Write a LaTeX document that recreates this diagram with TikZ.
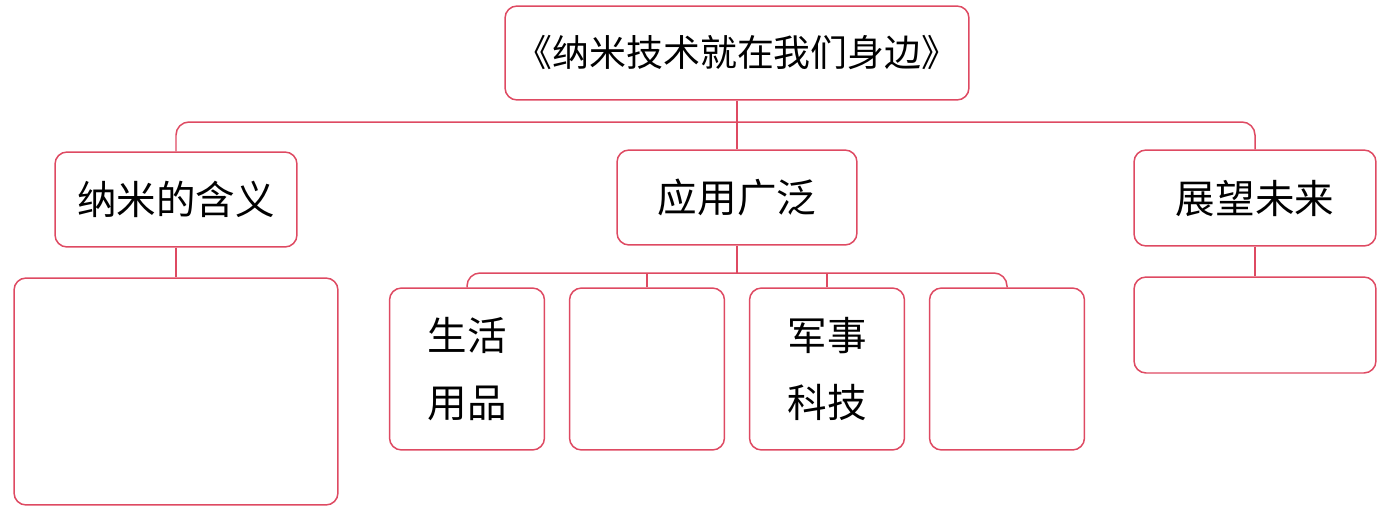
\documentclass[tikz,border=0pt]{standalone}
\usepackage{fontspec}
\newfontfamily\cjk{Noto Sans CJK SC}
\usetikzlibrary{positioning}

\definecolor{linkred}{RGB}{222,74,98}

\begin{document}
\begin{tikzpicture}[x=0.02cm, y=-0.02cm]

\tikzset{
  box/.style={
    rectangle, rounded corners=2.4mm,
    draw=linkred, line width=0.85pt, align=center,
    inner sep=2pt, font=\cjk\fontsize{22.5}{38}\selectfont
  },
  leaf/.style={box, minimum width=3.1cm, minimum height=3.24cm},
  link/.style={draw=linkred, line width=0.85pt, rounded corners=2.6mm}
}

\useasboundingbox (0,0) rectangle (1387,511);

% ==========================
% Title and the three topics
% ==========================
\node[box, minimum width=9.28cm, minimum height=1.88cm,
      font=\cjk\fontsize{21}{26}\selectfont] (title) at (737,53)
{《纳米技术就在我们身边》};

\node[box, minimum width=4.84cm, minimum height=1.9cm] (mean) at (176,199.5) {纳米的含义};
\node[box, minimum width=4.8cm, minimum height=1.9cm] (apply) at (737,197.5) {应用广泛};
\node[box, minimum width=4.84cm, minimum height=1.92cm] (future) at (1255,198) {展望未来};

\coordinate (bar) at (737,122);

\draw[link] (mean.north) |- (bar) -| (future.north);
\draw[link] (title.south) -- (apply.north);

% ==========================
% Answer boxes below the topics
% ==========================
\node[box, minimum width=6.48cm, minimum height=4.54cm] (meanans) at (176,391.5) {};
\node[box, minimum width=4.84cm, minimum height=1.92cm] (futureans) at (1255,325) {};

\draw[link] (mean.south) -- (meanans.north);
\draw[link] (future.south) -- (futureans.north);

% ==========================
% Four uses under the middle topic
% ==========================
\node[leaf] (use1) at (467,369) {生活\\用品};
\node[leaf] (use2) at (647,369) {};
\node[leaf] (use3) at (827,369) {军事\\科技};
\node[leaf] (use4) at (1007,369) {};

\coordinate (subbar) at (737,273);

\draw[link] (use1.north) |- (subbar) -| (use4.north);
\draw[link] (apply.south) -- (subbar);
\draw[link] (use2.north) -- (use2.north |- subbar);
\draw[link] (use3.north) -- (use3.north |- subbar);

\end{tikzpicture}
\end{document}
